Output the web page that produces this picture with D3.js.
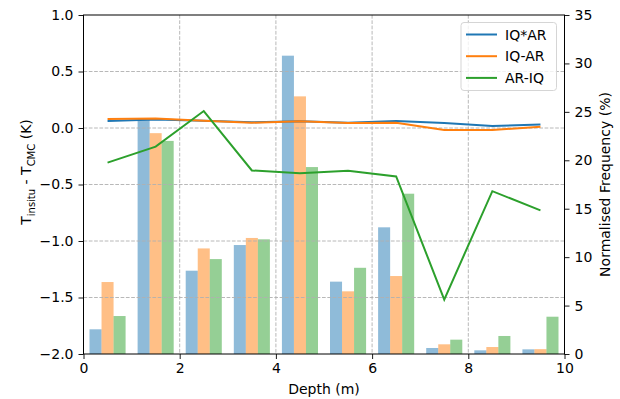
<!DOCTYPE html>
<html><head><meta charset="utf-8">
<script src="https://cdn.jsdelivr.net/npm/d3@7"></script>
<style>body{margin:0;background:#fff}svg{display:block}text{font-family:"DejaVu Sans",sans-serif}</style>
</head><body>
<script>
const depths = [0.5,1.5,2.5,3.5,4.5,5.5,6.5,7.5,8.5,9.5];
const seriesNames = ["IQ*AR","IQ-AR","AR-IQ"];
const diffIQxAR = [0.062,0.076,0.065,0.050,0.059,0.047,0.062,0.044,0.018,0.032];
const diffIQmAR = [0.079,0.085,0.065,0.047,0.059,0.044,0.047,-0.018,-0.018,0.012];
const diffARmIQ = [-0.306,-0.165,0.150,-0.376,-0.400,-0.379,-0.429,-1.518,-0.559,-0.729];
const freqIQxAR = [2.55,24.2,8.6,11.25,30.8,7.47,13.08,0.62,0.38,0.48];
const freqIQmAR = [7.43,22.8,10.9,11.98,26.6,6.47,8.05,1.0,0.72,0.5];
const freqARmIQ = [3.92,22.0,9.8,11.84,19.3,8.9,16.55,1.48,1.86,3.85];
const xTicks = [0,2,4,6,8,10];
const yLeftTicks = [-2.0,-1.5,-1.0,-0.5,0.0,0.5,1.0];
const yRightTicks = [0,5,10,15,20,25,30,35];
const colors = ["#1f77b4","#ff7f0e","#2ca02c"];

const W=620,H=399;
const m={l:83.5,r:W-564.5,t:15,b:H-354};
const svg=d3.select("body").append("svg").attr("width",W).attr("height",H);
const x=d3.scaleLinear().domain([0,10]).range([m.l,W-m.r]);
const yL=d3.scaleLinear().domain([-2,1]).range([H-m.b,m.t]);
const yR=d3.scaleLinear().domain([0,35]).range([H-m.b,m.t]);

const diffs=[diffIQxAR,diffIQmAR,diffARmIQ];
const freqs=[freqIQxAR,freqIQmAR,freqARmIQ];
const bw=0.25;

// bars
freqs.forEach((f,si)=>{
  svg.append("g").selectAll("rect").data(f).join("rect")
    .attr("x",(d,i)=>x(depths[i]-1.5*bw+si*bw))
    .attr("width",(d,i)=>x(depths[i]-0.5*bw+si*bw)-x(depths[i]-1.5*bw+si*bw))
    .attr("y",d=>yR(d)).attr("height",d=>yR(0)-yR(d))
    .attr("fill",colors[si]).attr("fill-opacity",0.5);
});

// grid
const g=svg.append("g").attr("stroke","#b0b0b0").attr("stroke-width",0.9).attr("stroke-dasharray","3.7,1.6");
g.selectAll(".gx").data(xTicks.slice(1,-1)).join("line").attr("x1",d=>x(d)).attr("x2",d=>x(d)).attr("y1",m.t).attr("y2",H-m.b);
g.selectAll(".gy").data(yLeftTicks.slice(1,-1)).join("line").attr("y1",d=>yL(d)).attr("y2",d=>yL(d)).attr("x1",m.l).attr("x2",W-m.r);

// lines
const line=d3.line().x((d,i)=>x(depths[i])).y(d=>yL(d));
diffs.forEach((d,si)=>{
  svg.append("path").datum(d).attr("d",line).attr("fill","none").attr("stroke",colors[si]).attr("stroke-width",2);
});

// axes
const fs="14px";
const ax=svg.append("g").attr("transform",`translate(0,${H-m.b})`).call(d3.axisBottom(x).tickValues(xTicks).tickFormat(d3.format("d")).tickSizeOuter(0).tickSize(5).tickPadding(4.5));
const al=svg.append("g").attr("transform",`translate(${m.l},0)`).call(d3.axisLeft(yL).tickValues(yLeftTicks).tickFormat(d=>d3.format(".1f")(d).replace("-","\u2212")).tickSizeOuter(0).tickSize(5).tickPadding(5));
const ar=svg.append("g").attr("transform",`translate(${W-m.r},0)`).call(d3.axisRight(yR).tickValues(yRightTicks).tickFormat(d3.format("d")).tickSizeOuter(0).tickSize(5).tickPadding(5));
[ax,al,ar].forEach(a=>{a.selectAll("text").attr("font-size",fs).attr("fill","#000").attr("font-family","DejaVu Sans");a.select(".domain").remove();a.selectAll("line").attr("stroke","#000").attr("stroke-width",0.9);});
svg.append("rect").attr("x",m.l).attr("y",m.t).attr("width",W-m.r-m.l).attr("height",H-m.b-m.t).attr("fill","none").attr("stroke","#000").attr("stroke-width",1);

// axis labels
svg.append("text").attr("x",(m.l+W-m.r)/2).attr("y",393.5).attr("text-anchor","middle").attr("font-size",fs).text("Depth (m)");
const yl=svg.append("text").attr("transform",`translate(31,172) rotate(-90)`).attr("text-anchor","middle").attr("font-size",fs);
yl.append("tspan").text("T");
yl.append("tspan").attr("font-size","10px").attr("dy",3.5).text("insitu");
yl.append("tspan").attr("dy",-3.5).text(" - T");
yl.append("tspan").attr("font-size","10px").attr("dy",3.5).text("CMC");
yl.append("tspan").attr("dy",-3.5).text(" (K)");
svg.append("text").attr("transform",`translate(610,${(m.t+H-m.b)/2}) rotate(-90)`).attr("text-anchor","middle").attr("font-size",fs).text("Normalised Frequency (%)");

// legend
const lg=svg.append("g");
lg.append("rect").attr("x",461).attr("y",22.5).attr("width",95.5).attr("height",68).attr("rx",3).attr("fill","#fff").attr("fill-opacity",0.8).attr("stroke","#d5d5d5");
seriesNames.forEach((n,i)=>{
  const yy=34.5+i*21.7;
  lg.append("line").attr("x1",466).attr("x2",497).attr("y1",yy).attr("y2",yy).attr("stroke",colors[i]).attr("stroke-width",2);
  lg.append("text").attr("x",505).attr("y",yy+5).attr("font-size",fs).text(n);
});
</script>
</body></html>
